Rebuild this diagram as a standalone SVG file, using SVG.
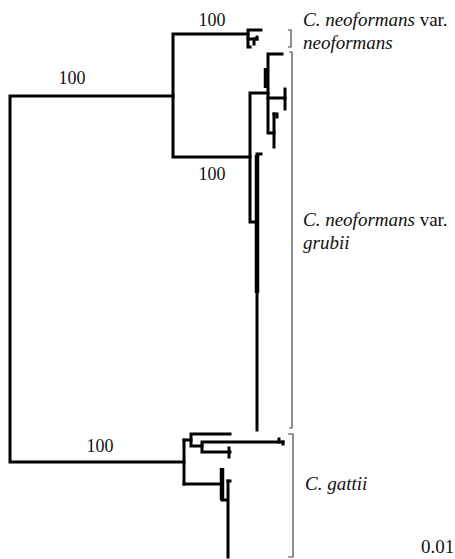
<svg xmlns="http://www.w3.org/2000/svg" width="455" height="559" viewBox="0 0 455 559">
<style>
.br{fill:none;stroke:#000;stroke-width:3;stroke-linejoin:miter;stroke-linecap:square}
.thick{fill:none;stroke:#000;stroke-width:4.5}
.bk{fill:none;stroke:#444;stroke-width:1.2}
.lbl{font-family:"Liberation Serif",serif;font-size:18px;fill:#111}
.sp{font-family:"Liberation Serif",serif;font-size:19px;fill:#111}
.it{font-style:italic}
</style>
<rect width="455" height="559" fill="#fff"/>
<g id="connectors">
  <!-- root -->
  <path class="br" d="M173 96 H10 V462 H184"/>
  <!-- C. neoformans node -->
  <path class="br" d="M248 34 H173 V157 H250"/>
  <!-- var. neoformans subclade -->
  <path class="br" d="M261 30 H248 V47 H250"/>
  <path class="br" d="M248 39 H257"/>
  <path class="br" d="M254 39 V44"/>
  <path class="br" d="M257 37 V39"/>
  <!-- var. grubii -->
  <path class="br" d="M268 93 H250 V222 H256"/>
  <path class="br" d="M282 54 H268 V133 H274"/>
  <path class="thick" d="M266 68 V88"/>
  <path class="br" d="M268 98 H285"/>
  <path class="br" d="M285 89 V109"/>
  <path class="br" d="M274 114 V147"/>
  <path class="br" d="M274 114 H277 V117"/>
  <path class="thick" d="M257 155 V293"/>
  <path class="br" d="M257 293 V430"/>
  <path class="br" d="M257 154 H261"/>
  <!-- C. gattii -->
  <path class="br" d="M184 440 V484"/>
  <path class="br" d="M184 440 H191"/>
  <path class="br" d="M230 434 H191 V446 H202"/>
  <path class="br" d="M283 442 H202 V452 H230"/>
  <path class="br" d="M279 439 V442"/>
  <path class="br" d="M283 442 V444"/>
  <path class="br" d="M229 448 V457"/>
  <path class="br" d="M184 484 H222"/>
  <path class="thick" d="M222 468 V500"/>
  <path class="br" d="M222 500 H227"/>
  <path class="br" d="M228 481 V557"/>
  <path class="br" d="M228 481 H230"/>
</g>
<g id="support-labels">
  <text class="lbl" x="72" y="84" text-anchor="middle">100</text>
  <text class="lbl" x="212" y="26" text-anchor="middle">100</text>
  <text class="lbl" x="212" y="180" text-anchor="middle">100</text>
  <text class="lbl" x="100" y="452" text-anchor="middle">100</text>
</g>
<g id="clade-neoformans">
  <path class="bk" d="M288 30 H291 V47 H288"/>
  <text class="sp" x="303" y="26"><tspan class="it">C. neoformans</tspan> var.</text>
  <text class="sp it" x="303" y="49">neoformans</text>
</g>
<g id="clade-grubii">
  <path class="bk" d="M289 52 H292 V428 H289"/>
  <text class="sp" x="303" y="226"><tspan class="it">C. neoformans</tspan> var.</text>
  <text class="sp it" x="303" y="249">grubii</text>
</g>
<g id="clade-gattii">
  <path class="bk" d="M288 434 H293 V557 H288"/>
  <text class="sp it" x="305" y="490">C. gattii</text>
</g>
<g id="scale">
  <text class="sp" x="421" y="553">0.01</text>
</g>
</svg>
